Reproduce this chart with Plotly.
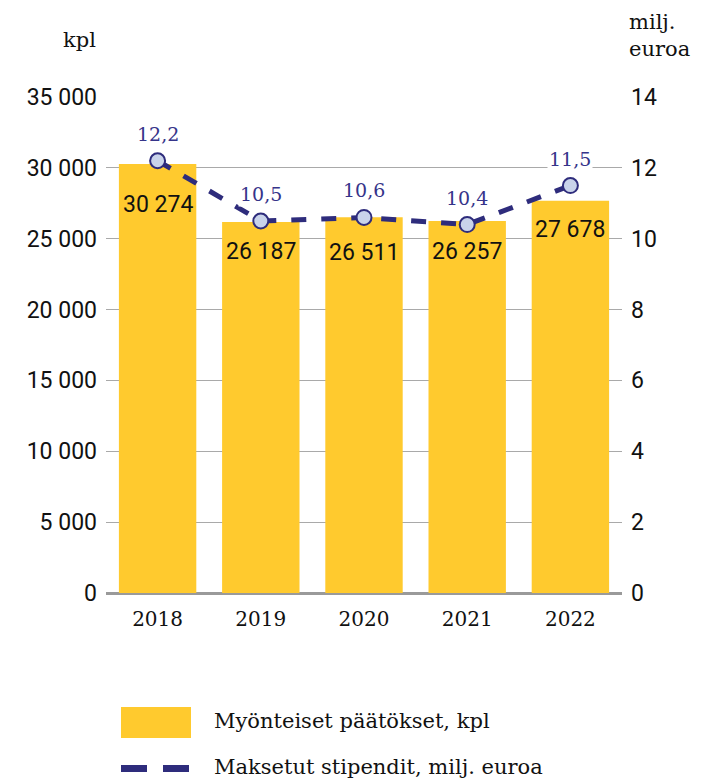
import plotly.graph_objects as go

years = [2018, 2019, 2020, 2021, 2022]
decisions = [30274, 26187, 26511, 26257, 27678]
grants = [12.2, 10.5, 10.6, 10.4, 11.5]
decision_labels = ["30 274", "26 187", "26 511", "26 257", "27 678"]
grant_labels = ["12,2", "10,5", "10,6", "10,4", "11,5"]
year_labels = ["2018", "2019", "2020", "2021", "2022"]
left_ticks = [0, 5000, 10000, 15000, 20000, 25000, 30000, 35000]
right_ticks = [0, 2, 4, 6, 8, 10, 12, 14]

YELLOW = "#FFCA2E"
NAVY = "#2E2C7C"
LABEL_NAVY = "#36348A"
SERIF = "DejaVu Serif"
SANS = "Roboto"

W, H = 709, 781
L, R, T, B = 106, 622, 97, 593


def px(xp):
    return (xp - L) / (R - L)


def py(yp):
    return (B - yp) / (B - T)


fig = go.Figure()
fig.add_trace(go.Bar(x=years, y=decisions, width=0.75,
                     marker=dict(color=YELLOW, line=dict(width=0)),
                     name="Myönteiset päätökset, kpl", yaxis="y", hoverinfo="skip"))
fig.add_trace(go.Scatter(x=years, y=grants, mode="lines+markers", yaxis="y2",
                         line=dict(color=NAVY, width=5, dash="dash"),
                         marker=dict(size=15, color="#C9D3EA", line=dict(color=NAVY, width=2)),
                         name="Maksetut stipendit, milj. euroa", hoverinfo="skip"))

bar_label_shift = [-41, -30, -35, -31, -29]
anns = []
for x, v, t, s in zip(years, decisions, decision_labels, bar_label_shift):
    anns.append(dict(x=x, y=v, xref="x", yref="y", text=t, showarrow=False, yshift=s,
                     font=dict(family=SANS, size=23, color="#111111")))
for x, v, t in zip(years, grants, grant_labels):
    anns.append(dict(x=x, y=v, xref="x", yref="y2", text=t, showarrow=False, yshift=27,
                     bgcolor="white", borderpad=1,
                     font=dict(family=SERIF, size=19, color=LABEL_NAVY)))

anns.append(dict(xref="paper", yref="paper", x=px(98), y=py(40), text="kpl", showarrow=False,
                 xanchor="right", yanchor="middle", font=dict(family=SERIF, size=21, color="#111111")))
anns.append(dict(xref="paper", yref="paper", x=px(627), y=py(36), text="milj.<br>euroa", showarrow=False,
                 xanchor="left", yanchor="middle", align="left",
                 font=dict(family=SERIF, size=21, color="#111111")))
anns.append(dict(xref="paper", yref="paper", x=px(212), y=py(721), text="Myönteiset päätökset, kpl",
                 showarrow=False, xanchor="left", yanchor="middle",
                 font=dict(family=SERIF, size=21, color="#111111")))
anns.append(dict(xref="paper", yref="paper", x=px(212), y=py(767), text="Maksetut stipendit, milj. euroa",
                 showarrow=False, xanchor="left", yanchor="middle",
                 font=dict(family=SERIF, size=21, color="#111111")))

shapes = [
    dict(type="rect", xref="paper", yref="paper", x0=px(121), x1=px(191), y0=py(738), y1=py(707),
         fillcolor=YELLOW, line=dict(width=0)),
    dict(type="rect", xref="paper", yref="paper", x0=px(121), x1=px(147), y0=py(772), y1=py(765),
         fillcolor=NAVY, line=dict(width=0)),
    dict(type="rect", xref="paper", yref="paper", x0=px(163), x1=px(189), y0=py(772), y1=py(765),
         fillcolor=NAVY, line=dict(width=0)),
]

fig.update_layout(
    width=W, height=H,
    margin=dict(l=L, r=W - R, t=T, b=H - B, pad=0, autoexpand=False),
    plot_bgcolor="white", paper_bgcolor="white",
    separators=", ",
    showlegend=False,
    hovermode=False,
    annotations=anns,
    shapes=shapes,
    xaxis=dict(range=[2017.5, 2022.5], tickvals=years, ticktext=year_labels,
               showgrid=False, showline=False, ticks="", zeroline=False,
               tickfont=dict(family=SERIF, size=20, color="#111111"), ticklabelstandoff=12),
    yaxis=dict(range=[0, 35000], tickvals=left_ticks, tickformat=",d", showgrid=True,
               gridcolor="#A9A9A9", gridwidth=1.3, zeroline=True, zerolinecolor="#9A9A9A",
               zerolinewidth=3, showline=False, ticks="", ticklabelstandoff=8,
               tickfont=dict(family=SANS, size=23, color="#111111")),
    yaxis2=dict(range=[0, 14], tickvals=right_ticks, overlaying="y", side="right", showgrid=False,
                zeroline=False, showline=False, ticks="", ticklabelstandoff=8,
                tickfont=dict(family=SANS, size=23, color="#111111")),
)

fig.write_html("out.html", config={"displayModeBar": False},
               post_script="document.body.style.margin='0';document.body.style.overflow='hidden';")
